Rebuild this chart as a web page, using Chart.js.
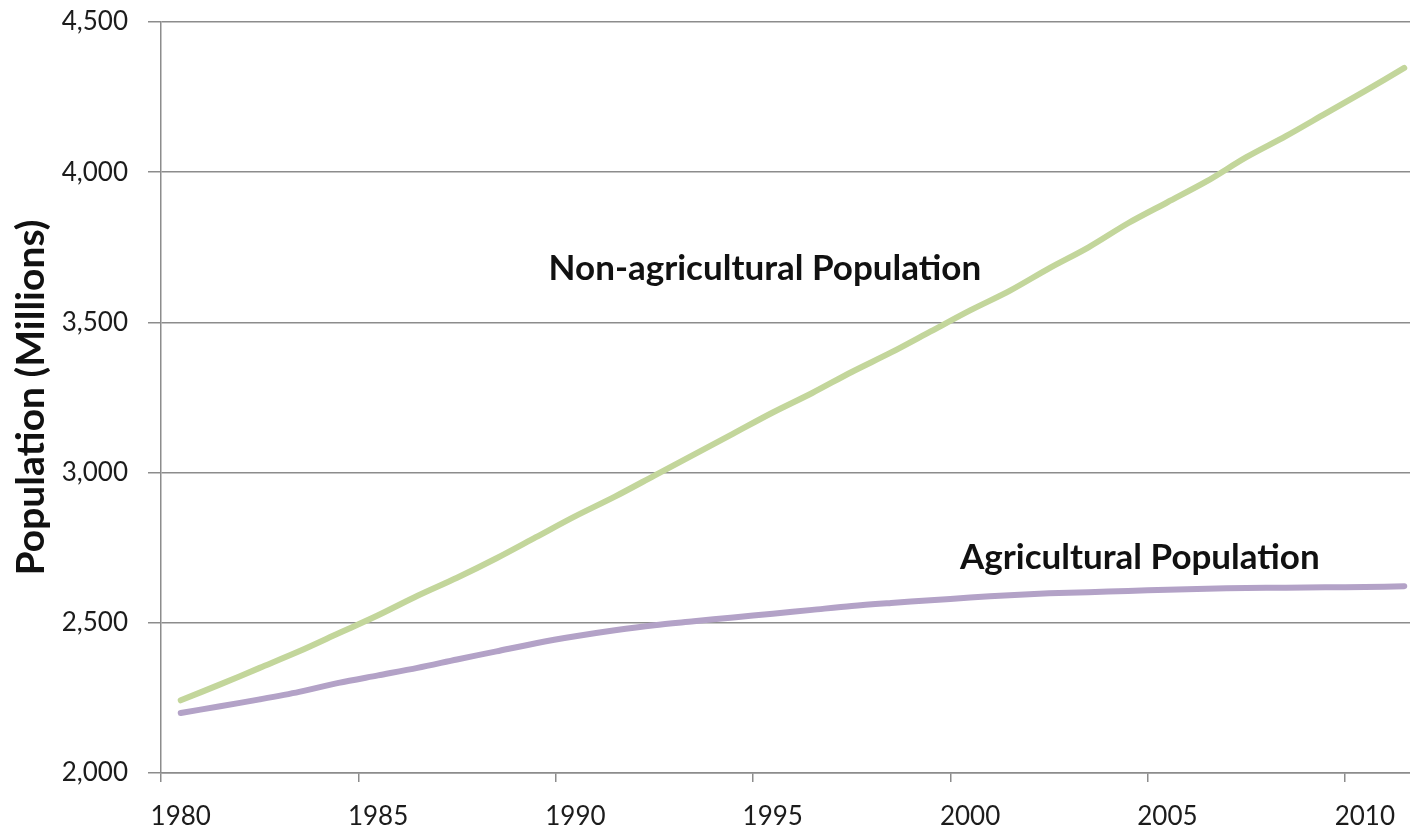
<!DOCTYPE html>
<html>
<head>
  <title>Agricultural vs Non-agricultural Population</title>
  <script src="https://cdn.jsdelivr.net/npm/chart.js"></script>
  <style>
    html, body { margin: 0; padding: 0; overflow: hidden; background: #fff; }
    /* the plot area runs a little past the right edge of the window, like the original */
    .chart-wrap { width: 1425px; height: 829px; position: relative; }
  </style>
</head>
<body>
  <div class="chart-wrap">
    <canvas id="popChart"></canvas>
  </div>

  <script>
    const years = ['1980', '1981', '1982', '1983', '1984', '1985', '1986', '1987', '1988', '1989',
                   '1990', '1991', '1992', '1993', '1994', '1995', '1996', '1997', '1998', '1999',
                   '2000', '2001', '2002', '2003', '2004', '2005', '2006', '2007', '2008', '2009',
                   '2010', '2011'];

    // millions
    const nonAgricultural = [2242, 2295, 2350, 2405, 2465, 2525, 2590, 2650, 2715, 2785,
                             2855, 2920, 2990, 3060, 3130, 3200, 3265, 3335, 3400, 3470,
                             3540, 3605, 3680, 3750, 3830, 3900, 3970, 4050, 4120, 4195,
                             4270, 4347];
    const agricultural = [2200, 2222, 2245, 2270, 2300, 2325, 2350, 2378, 2405, 2432,
                          2455, 2475, 2492, 2505, 2518, 2530, 2543, 2556, 2566, 2575,
                          2584, 2592, 2598, 2602, 2606, 2610, 2613, 2616, 2617, 2618,
                          2619, 2622];

    const yTicks = [2000, 2500, 3000, 3500, 4000, 4500];

    // in-chart labels, anchored in data space (fractional year, value at baseline)
    const seriesLabels = [
      { text: 'Non-agricultural Population', year: 1994.8, value: 3642 },
      { text: 'Agricultural Population', year: 2004.3, value: 2678 }
    ];

    const gridGrey = '#8c8c8c';
    const textColor = '#1c1c1c';
    const tickFont = "'Lato', 'DejaVu Sans', sans-serif";

    const seriesLabelPlugin = {
      id: 'seriesLabels',
      afterDatasetsDraw(chart) {
        const ctx = chart.ctx;
        const x = chart.scales.x;
        const y = chart.scales.y;
        ctx.save();
        ctx.font = "bold 35px 'Lato', sans-serif";
        ctx.fillStyle = '#111';
        ctx.textAlign = 'center';
        ctx.textBaseline = 'alphabetic';
        for (const lbl of seriesLabels) {
          const px = x.getPixelForValue(lbl.year - Number(years[0]));
          const py = y.getPixelForValue(lbl.value);
          ctx.fillText(lbl.text, px, py);
        }
        ctx.restore();
      }
    };

    new Chart(document.getElementById('popChart'), {
      type: 'line',
      data: {
        labels: years,
        datasets: [
          {
            label: 'Non-agricultural Population',
            data: nonAgricultural,
            borderColor: '#c3d69b',
            borderWidth: 6,
            borderCapStyle: 'round',
            pointRadius: 0,
            tension: 0.3,
            fill: false
          },
          {
            label: 'Agricultural Population',
            data: agricultural,
            borderColor: '#b3a2c7',
            borderWidth: 6,
            borderCapStyle: 'round',
            pointRadius: 0,
            tension: 0.3,
            fill: false
          }
        ]
      },
      options: {
        responsive: true,
        maintainAspectRatio: false,
        animation: false,
        layout: { padding: { top: 22, left: 0, right: 1, bottom: 0 } },
        plugins: {
          legend: { display: false },
          tooltip: { enabled: false }
        },
        scales: {
          x: {
            type: 'category',
            offset: true,
            grid: {
              offset: true,
              drawOnChartArea: false,
              tickLength: 9,
              lineWidth: 1.5,
              color: (c) => (c.index % 5 === 0 ? gridGrey : 'rgba(0,0,0,0)')
            },
            border: { color: gridGrey, width: 1.5 },
            ticks: {
              autoSkip: false,
              maxRotation: 0,
              padding: 19,
              color: textColor,
              font: { family: tickFont, size: 26 },
              callback: function (value, index) {
                return index % 5 === 0 ? this.getLabelForValue(value) : '';
              }
            },
            afterFit: (scale) => {
              scale.height = 56;
              scale.paddingLeft = 0;
              scale.paddingRight = 0;
            }
          },
          y: {
            min: 2000,
            max: 4500,
            afterBuildTicks: (scale) => {
              scale.ticks = yTicks.map(v => ({ value: v }));
            },
            grid: {
              color: gridGrey,
              lineWidth: 1.5,
              tickLength: 13
            },
            border: { color: gridGrey, width: 1.5 },
            ticks: {
              padding: 20,
              color: textColor,
              font: { family: tickFont, size: 26 },
              callback: (v) => Number(v).toLocaleString('en-US')
            },
            title: {
              display: true,
              text: 'Population (Millions)',
              color: '#111',
              font: { family: "'Lato', sans-serif", size: 39, weight: 'bold' },
              padding: { top: 8, bottom: 0 }
            },
            afterFit: (scale) => {
              scale.width = 161;
              scale.paddingTop = 0;
              scale.paddingBottom = 0;
            }
          }
        }
      },
      plugins: [seriesLabelPlugin]
    });
  </script>
</body>
</html>
